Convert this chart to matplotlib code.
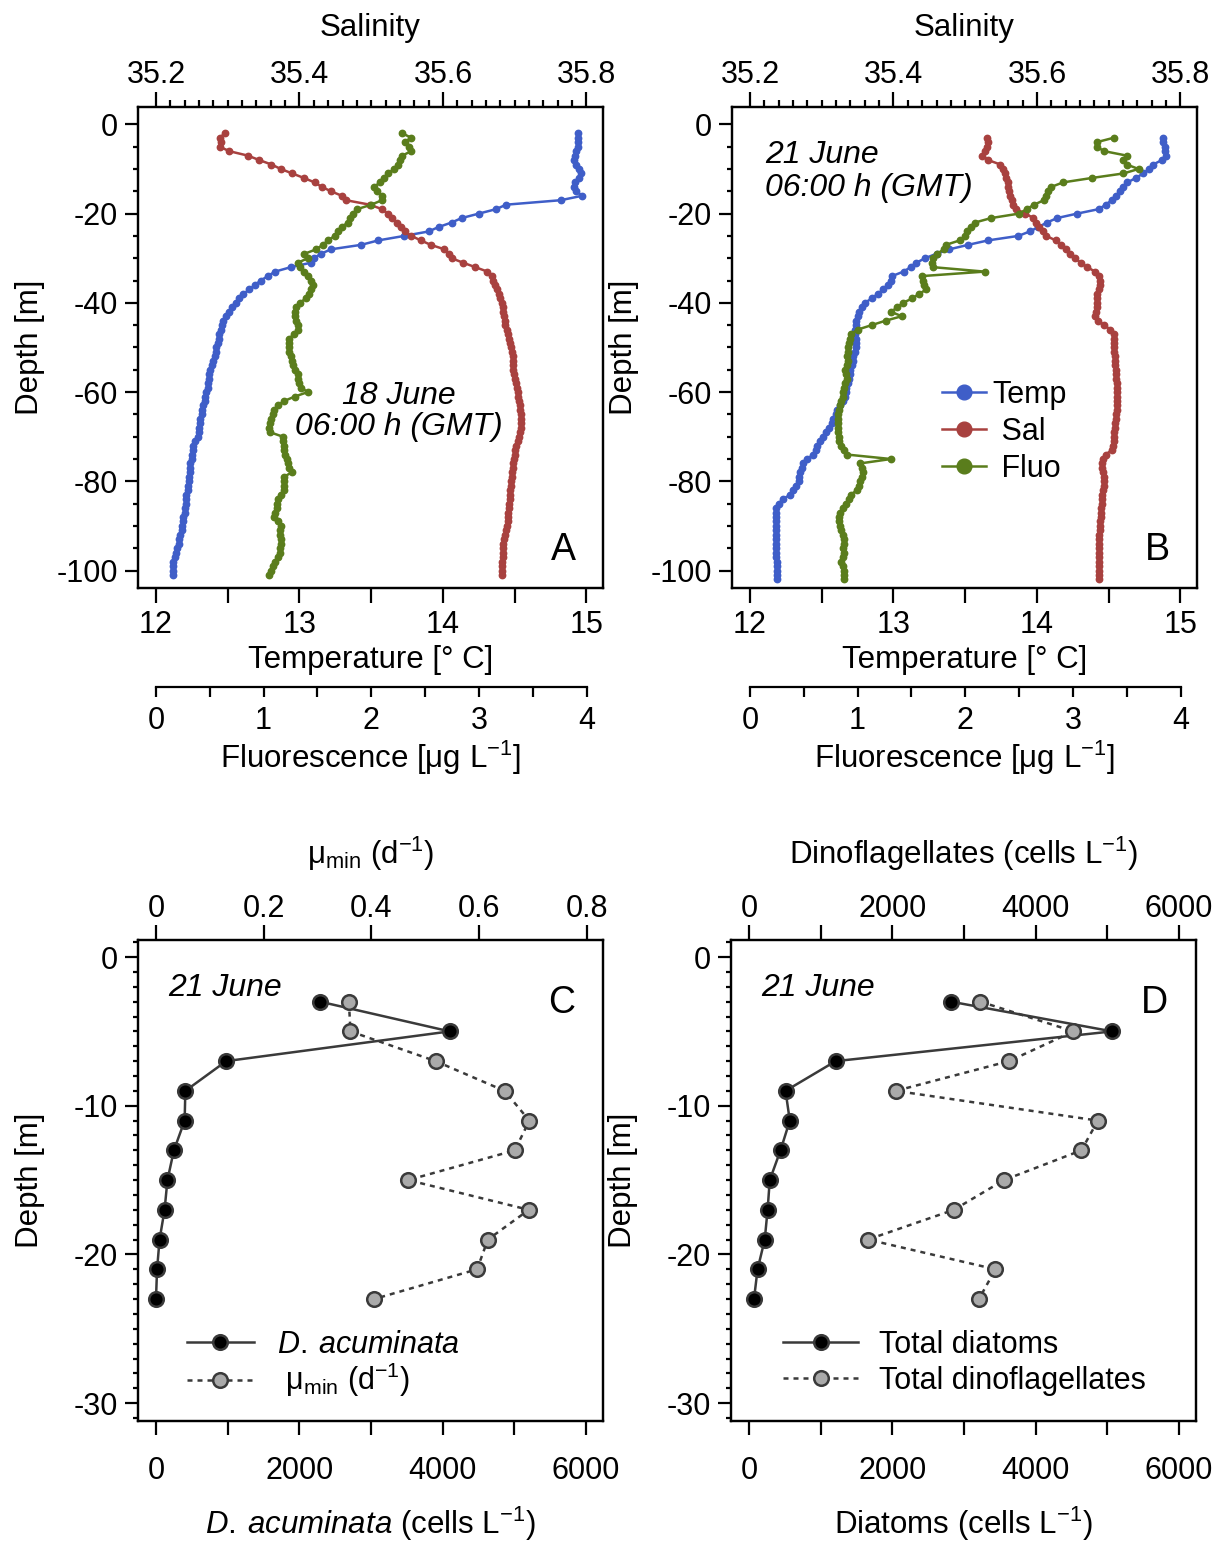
import numpy as np
import matplotlib.pyplot as plt
from matplotlib.ticker import MultipleLocator, FixedLocator, FuncFormatter

plt.rcParams['font.family'] = ['Liberation Sans', 'DejaVu Sans']
plt.rcParams['mathtext.fontset'] = 'custom'
plt.rcParams['mathtext.rm'] = 'Liberation Sans'
plt.rcParams['mathtext.it'] = 'Liberation Sans:italic'
plt.rcParams['mathtext.default'] = 'regular'
plt.rcParams['axes.unicode_minus'] = False
plt.rcParams['font.size'] = 22
plt.rcParams['axes.labelsize'] = 22.5
plt.rcParams['axes.linewidth'] = 1.6

# ---- CTD profiles, 1 m bins ----
depth_18 = np.arange(-2, -102, -1)
temp_18 = [14.94, 14.94, 14.94, 14.94, 14.93,
           14.92, 14.91, 14.93, 14.95, 14.96, 14.95, 14.92, 14.91, 14.93, 14.97,
           14.82, 14.44, 14.37, 14.25, 14.13, 14.06, 13.97, 13.90, 13.73, 13.55,
           13.43, 13.22, 13.15, 13.10, 13.08, 12.94, 12.83, 12.78, 12.73, 12.69,
           12.65, 12.61, 12.58, 12.56, 12.53, 12.51, 12.49, 12.47, 12.46, 12.45,
           12.44, 12.44, 12.43, 12.42, 12.42, 12.41, 12.40, 12.39, 12.38, 12.37,
           12.37, 12.36, 12.36, 12.35, 12.34, 12.34, 12.33, 12.32, 12.32, 12.31,
           12.31, 12.30, 12.30, 12.29, 12.27, 12.26, 12.26, 12.25, 12.25, 12.24,
           12.24, 12.24, 12.23, 12.23, 12.22, 12.22, 12.21, 12.21, 12.21, 12.20,
           12.20, 12.19, 12.19, 12.18, 12.18, 12.17, 12.16, 12.16, 12.15, 12.14,
           12.13, 12.12, 12.12, 12.12, 12.12]
sal_18 = [35.296, 35.289, 35.290, 35.289, 35.302,
          35.328, 35.344, 35.361, 35.374, 35.390, 35.406, 35.421, 35.431, 35.444, 35.459,
          35.465, 35.498, 35.515, 35.523, 35.529, 35.536, 35.541, 35.547, 35.556, 35.569,
          35.583, 35.602, 35.609, 35.612, 35.628, 35.645, 35.662, 35.669, 35.670, 35.672,
          35.675, 35.678, 35.680, 35.682, 35.683, 35.684, 35.685, 35.686, 35.687, 35.689,
          35.690, 35.692, 35.694, 35.695, 35.696, 35.697, 35.697, 35.698, 35.698, 35.699,
          35.700, 35.702, 35.703, 35.704, 35.705, 35.706, 35.707, 35.708, 35.709, 35.709,
          35.709, 35.709, 35.708, 35.706, 35.704, 35.702, 35.701, 35.700, 35.699, 35.698,
          35.697, 35.696, 35.696, 35.695, 35.695, 35.694, 35.694, 35.693, 35.692, 35.692,
          35.691, 35.691, 35.690, 35.689, 35.688, 35.686, 35.685, 35.684, 35.684, 35.683,
          35.683, 35.682, 35.682, 35.682, 35.682]
fluo_18 = [2.29, 2.37, 2.31, 2.35, 2.37,
           2.29, 2.27, 2.25, 2.21, 2.16, 2.12, 2.08, 2.03, 2.05, 2.10,
           2.10, 2.00, 1.87, 1.83, 1.80, 1.78, 1.73, 1.69, 1.66, 1.60,
           1.55, 1.49, 1.38, 1.41, 1.32, 1.34, 1.38, 1.41, 1.44, 1.46,
           1.44, 1.42, 1.39, 1.34, 1.30, 1.29, 1.29, 1.30, 1.32, 1.32,
           1.28, 1.24, 1.24, 1.24, 1.24, 1.25, 1.26, 1.27, 1.29, 1.32,
           1.32, 1.33, 1.35, 1.41, 1.29, 1.19, 1.13, 1.10, 1.09, 1.07,
           1.06, 1.05, 1.06, 1.18, 1.18, 1.19, 1.19, 1.20, 1.22, 1.23,
           1.24, 1.26, 1.19, 1.19, 1.19, 1.19, 1.16, 1.13, 1.12, 1.12,
           1.11, 1.10, 1.13, 1.16, 1.15, 1.15, 1.16, 1.16, 1.15, 1.15,
           1.13, 1.11, 1.09, 1.07, 1.05]

depth_21 = np.arange(-3, -103, -1)
temp_21 = [14.88, 14.88, 14.89, 14.89, 14.90, 14.87, 14.81, 14.78, 14.74, 14.69,
           14.63, 14.60, 14.58, 14.55, 14.52, 14.48, 14.43, 14.28, 14.14, 14.07,
           14.01, 13.95, 13.87, 13.66, 13.52, 13.39, 13.30, 13.22, 13.16, 13.12,
           13.07, 12.99, 12.98, 12.96, 12.93, 12.89, 12.85, 12.80, 12.78, 12.76,
           12.75, 12.74, 12.74, 12.73, 12.73, 12.74, 12.74, 12.74, 12.73, 12.72,
           12.72, 12.71, 12.70, 12.70, 12.69, 12.68, 12.67, 12.67, 12.66, 12.65,
           12.63, 12.61, 12.60, 12.58, 12.57, 12.55, 12.53, 12.51, 12.49, 12.47,
           12.46, 12.44, 12.40, 12.37, 12.36, 12.35, 12.34, 12.34, 12.32, 12.30,
           12.28, 12.23, 12.20, 12.18, 12.18, 12.18, 12.18, 12.18, 12.18, 12.18,
           12.18, 12.18, 12.18, 12.18, 12.18, 12.19, 12.19, 12.19, 12.19, 12.19]
sal_21 = [35.530, 35.532, 35.531, 35.527, 35.524, 35.532, 35.549, 35.553, 35.555, 35.557,
          35.559, 35.560, 35.561, 35.563, 35.565, 35.567, 35.571, 35.584, 35.595, 35.599,
          35.603, 35.608, 35.613, 35.626, 35.634, 35.640, 35.646, 35.653, 35.661, 35.670,
          35.681, 35.687, 35.688, 35.688, 35.686, 35.684, 35.683, 35.683, 35.683, 35.682,
          35.681, 35.685, 35.694, 35.702, 35.707, 35.707, 35.708, 35.708, 35.708, 35.709,
          35.709, 35.709, 35.710, 35.710, 35.710, 35.711, 35.711, 35.711, 35.711, 35.711,
          35.711, 35.711, 35.710, 35.710, 35.709, 35.709, 35.708, 35.707, 35.707, 35.706,
          35.704, 35.696, 35.692, 35.690, 35.690, 35.692, 35.693, 35.693, 35.693, 35.692,
          35.691, 35.690, 35.690, 35.689, 35.689, 35.689, 35.688, 35.688, 35.688, 35.687,
          35.687, 35.687, 35.687, 35.687, 35.687, 35.687, 35.687, 35.687, 35.687, 35.687]
fluo_21 = [3.38, 3.22, 3.22, 3.29, 3.50, 3.47, 3.50, 3.61, 3.47, 3.18,
           2.91, 2.80, 2.77, 2.75, 2.73, 2.64, 2.57, 2.50, 2.24, 2.09,
           2.05, 2.02, 2.00, 1.95, 1.82, 1.80, 1.74, 1.70, 1.69, 1.70,
           2.18, 1.60, 1.61, 1.62, 1.64, 1.57, 1.51, 1.42, 1.37, 1.31,
           1.41, 1.26, 1.13, 1.00, 0.94, 0.93, 0.92, 0.91, 0.91, 0.90,
           0.91, 0.90, 0.88, 0.89, 0.90, 0.88, 0.87, 0.86, 0.86, 0.85,
           0.84, 0.83, 0.82, 0.82, 0.82, 0.82, 0.82, 0.83, 0.83, 0.85,
           0.87, 0.90, 1.31, 1.02, 1.04, 1.05, 1.04, 1.02, 1.01, 0.99,
           0.94, 0.92, 0.89, 0.86, 0.84, 0.83, 0.83, 0.84, 0.85, 0.86,
           0.87, 0.87, 0.86, 0.87, 0.86, 0.85, 0.86, 0.87, 0.87, 0.87]

# ---- bottle samples, 21 June ----
sample_depth = [-3, -5, -7, -9, -11, -13, -15, -17, -19, -21, -23]
d_acuminata = [2290, 4100, 980, 410, 400, 250, 160, 120, 50, 15, 0]
mu_min = [0.358, 0.361, 0.519, 0.647, 0.693, 0.666, 0.468, 0.692, 0.616, 0.596, 0.405]
diatoms = [2820, 5070, 1210, 510, 570, 440, 290, 260, 220, 120, 70]
dinoflagellates = [3230, 4530, 3630, 2050, 4870, 4640, 3560, 2860, 1660, 3440, 3210]

TEMP_C = '#3f5ec8'
SAL_C = '#a8413f'
FLUO_C = '#5a7d1c'
DARK = '#3a3a3a'

fig = plt.figure(figsize=(12.15, 15.42), dpi=100)

W = 465 / 1215
H = 481 / 1542


def label_fmt(v, pos):
    return f'{v:g}'


def profile_panel(left, depth, temp, sal, fluo, letter):
    ax = fig.add_axes([left, 0.6187, W, H])
    ax_s = ax.twiny()
    ax_f = ax.twiny()

    style = dict(lw=1.8, ms=4.6)
    l1, = ax.plot(temp, depth, '-o', color=TEMP_C, label='Temp', **style)
    l2, = ax_s.plot(sal, depth, '-o', color=SAL_C, label=' Sal', **style)
    l3, = ax_f.plot(fluo, depth, '-o', color=FLUO_C, label=' Fluo', **style)

    ax.set_ylim(-103.9, 3.9)
    ax.set_xlim(11.875, 15.115)
    ax_s.set_xlim(35.175, 35.823)
    ax_f.set_xlim(-0.1667, 4.153)

    # depth axis
    ax.yaxis.set_major_locator(MultipleLocator(20))
    ax.yaxis.set_minor_locator(MultipleLocator(5))
    ax.tick_params(axis='y', which='major', length=9.5, width=1.6, pad=5)
    ax.tick_params(axis='y', which='minor', length=3.6, width=1.6)
    ax.set_ylabel('Depth [m]')
    ax.yaxis.set_label_coords(-0.199, 0.5)

    # temperature axis
    ax.xaxis.set_major_locator(FixedLocator([12, 13, 14, 15]))
    ax.xaxis.set_minor_locator(FixedLocator([12.5, 13.5, 14.5]))
    ax.tick_params(axis='x', which='both', length=10.8, width=1.6, pad=5)
    ax.set_xlabel('Temperature [° C]', labelpad=4)

    # salinity axis on top
    ax_s.xaxis.set_major_locator(FixedLocator([35.2, 35.4, 35.6, 35.8]))
    ax_s.xaxis.set_minor_locator(FixedLocator(np.round(np.arange(35.22, 35.8, 0.02), 2)))
    ax_s.xaxis.set_major_formatter(FuncFormatter(label_fmt))
    ax_s.tick_params(axis='x', which='major', length=10.8, width=1.6, pad=1.5)
    ax_s.tick_params(axis='x', which='minor', length=5, width=1.6)
    ax_s.set_xlabel('Salinity', labelpad=17)

    # fluorescence axis detached below
    for side in ('top', 'left', 'right'):
        ax_f.spines[side].set_visible(False)
    ax_f.xaxis.set_ticks_position('bottom')
    ax_f.xaxis.set_label_position('bottom')
    ax_f.spines['bottom'].set_position(('axes', -0.2058))
    ax_f.spines['bottom'].set_bounds(0, 4)
    ax_f.xaxis.set_major_locator(FixedLocator([0, 1, 2, 3, 4]))
    ax_f.xaxis.set_minor_locator(FixedLocator([0.5, 1.5, 2.5, 3.5]))
    ax_f.tick_params(axis='x', which='both', length=7.5, width=1.6, pad=6.5)
    ax_f.set_xlabel('Fluorescence [μg L$^{-1}$]', labelpad=2)

    ax_f.text(0.915, 0.079, letter, transform=ax.transAxes, fontsize=27,
              ha='center', va='center')
    return ax, ax_f, (l1, l2, l3)


ax_a, ax_af, _ = profile_panel(138 / 1215, depth_18, temp_18, sal_18, fluo_18, 'A')
ax_af.text(0.561, 0.367, '18 June\n06:00 h (GMT)', transform=ax_a.transAxes,
           style='italic', fontsize=23, ha='center', va='center',
           multialignment='center', linespacing=1.05)

ax_b, ax_bf, lines_b = profile_panel(732 / 1215, depth_21, temp_21, sal_21, fluo_21, 'B')
ax_bf.text(0.071, 0.866, '21 June\n06:00 h (GMT)', transform=ax_b.transAxes,
           style='italic', fontsize=23, ha='left', va='center', linespacing=1.16)
ax_bf.legend(handles=list(lines_b), loc='upper left', bbox_to_anchor=(0.452, 0.432),
             bbox_transform=ax_b.transAxes, frameon=False, borderpad=0,
             borderaxespad=0, handlelength=1.45, handletextpad=0.2,
             labelspacing=0.22, markerscale=2.3)


def sample_panel(left, bottom_vals, top_vals, top_lim, top_step, top_minor,
                 bottom_label, top_label, labels, letter, legend_x, handlelen,
                 textpad, spacing):
    ax = fig.add_axes([left, 0.0785, W, H])
    ax_t = ax.twiny()
    h1, = ax.plot(bottom_vals, sample_depth, '-o', color=DARK, lw=1.8,
                  mfc='black', mec=DARK, mew=1.8, ms=10.5, label=labels[0])
    h2, = ax_t.plot(top_vals, sample_depth, linestyle=(0, (2, 2)), marker='o',
                    color=DARK, lw=1.8, mfc='#aaaaaa', mec=DARK, mew=1.8, ms=10.5,
                    label=labels[1])

    ax.set_ylim(-31.2, 1.15)
    ax.set_xlim(-251, 6240)
    ax_t.set_xlim(*top_lim)

    ax.yaxis.set_major_locator(MultipleLocator(10))
    ax.yaxis.set_minor_locator(MultipleLocator(1))
    ax.tick_params(axis='y', which='major', length=9.5, width=1.6, pad=5)
    ax.tick_params(axis='y', which='minor', length=3.6, width=1.6)
    ax.set_ylabel('Depth [m]')
    ax.yaxis.set_label_coords(-0.199, 0.5)

    ax.xaxis.set_major_locator(MultipleLocator(2000))
    ax.xaxis.set_minor_locator(MultipleLocator(1000))
    ax.tick_params(axis='x', which='both', length=10, width=1.6, pad=15)
    ax.set_xlabel(bottom_label, labelpad=14)

    ax_t.xaxis.set_major_locator(MultipleLocator(top_step))
    if top_minor:
        ax_t.xaxis.set_minor_locator(MultipleLocator(top_minor))
    ax_t.xaxis.set_major_formatter(FuncFormatter(label_fmt))
    ax_t.tick_params(axis='x', which='both', length=10.8, width=1.6, pad=1)
    ax_t.set_xlabel(top_label, labelpad=21)

    ax_t.text(0.065, 0.900, '21 June', transform=ax.transAxes, style='italic',
              fontsize=23, ha='left', va='center')
    ax_t.text(0.91, 0.869, letter, transform=ax.transAxes, fontsize=27,
              ha='center', va='center')
    ax_t.legend(handles=[h1, h2], loc='upper left', bbox_to_anchor=(legend_x, 0.19),
                bbox_transform=ax.transAxes, frameon=False, borderpad=0,
                borderaxespad=0, handlelength=handlelen, handletextpad=textpad,
                labelspacing=spacing)
    return ax, ax_t


species = r'$\mathit{D.\:acuminata}$'
sample_panel(138 / 1215, d_acuminata, mu_min, (-0.0334, 0.8297), 0.2, None,
             species + ' (cells L$^{-1}$)', 'μ$_{min}$ (d$^{-1}$)',
             [species, ' μ$_{min}$ (d$^{-1}$)'], 'C',
             0.105, 2.2, 0.75, 0.05)
sample_panel(731 / 1215, diatoms, dinoflagellates, (-251, 6240), 2000, 1000,
             'Diatoms (cells L$^{-1}$)', 'Dinoflagellates (cells L$^{-1}$)',
             ['Total diatoms', 'Total dinoflagellates'], 'D',
             0.112, 2.45, 0.7, 0.2)

fig.savefig('out.png', dpi=100)
